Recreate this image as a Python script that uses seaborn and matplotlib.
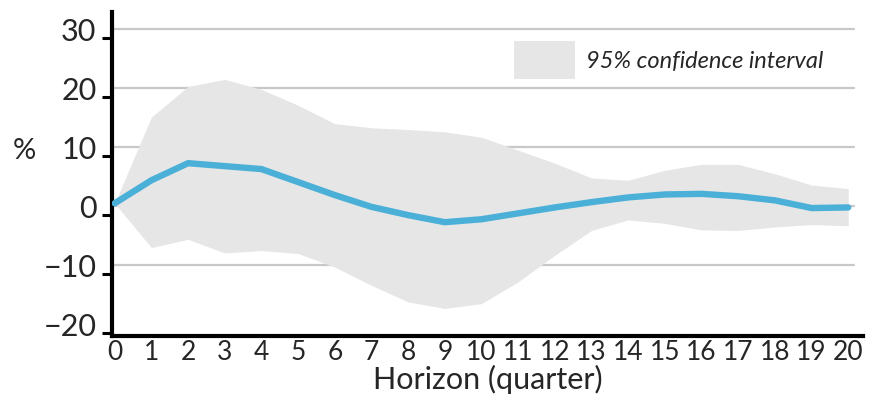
import numpy as np
import pandas as pd
import matplotlib.pyplot as plt
import seaborn as sns
from matplotlib.patches import Patch

# Impulse response, quarters 0..20
horizon = list(range(21))
response = [0.5, 4.4, 7.3, 6.8, 6.3, 4.1, 1.9, -0.1, -1.5, -2.7, -2.2,
            -1.2, -0.2, 0.7, 1.5, 2.0, 2.1, 1.7, 1.0, -0.3, -0.2]
ci_upper = [0.5, 15.1, 20.3, 21.5, 19.8, 17.1, 14.0, 13.3, 13.0, 12.6, 11.7,
            9.5, 7.3, 4.8, 4.4, 6.1, 7.1, 7.1, 5.5, 3.6, 3.0]
ci_lower = [0.5, -7.0, -5.6, -7.9, -7.5, -8.0, -10.3, -13.4, -16.2, -17.3, -16.5,
            -12.8, -8.3, -4.1, -2.3, -2.9, -4.0, -4.1, -3.5, -3.1, -3.3]
yticks = [30, 20, 10, 0, -10, -20]
ytick_labels = ['30', '20', '10', '0', '\u221210', '\u221220']

df = pd.DataFrame({'horizon': horizon, 'response': response,
                   'upper': ci_upper, 'lower': ci_lower})

sns.set_style('white')
plt.rcParams['font.family'] = ['Lato', 'DejaVu Sans']

fig = plt.figure(figsize=(8.8, 4.15), dpi=100)
ax = fig.add_axes([0.127, 0.19, 0.854, 0.781])

band_color = '#e6e6e6'
ax.fill_between(df['horizon'], df['lower'], df['upper'], color=band_color,
                linewidth=0, zorder=1)

# gridlines stop at the last quarter, the axis runs a little further
for y in yticks[:-1]:
    ax.axhline(y, xmin=0, xmax=(20.15 + 0.08) / 20.49, color='#c8c8c8',
               linewidth=1.6, zorder=0.5)

sns.lineplot(data=df, x='horizon', y='response', ax=ax, color='#4bb0d8',
             linewidth=4.6, zorder=3)

ax.set_xlim(-0.08, 20.41)
ax.set_ylim(-22.0, 32.9)
ax.set_xticks(horizon)
ax.set_xticklabels([str(h) for h in horizon], fontsize=19)
ax.set_yticks(yticks)
ax.set_yticklabels(ytick_labels, fontsize=22)
# tick marks sit a bit below the labels, as in the original
ax.set_yticks([t - 1.5 for t in yticks], minor=True)
ax.tick_params(axis='y', which='major', length=0, pad=11)
ax.tick_params(axis='y', which='minor', length=7, width=2.2, color='black',
               left=True)
ax.tick_params(axis='x', length=0, pad=3)

for side in ['top', 'right']:
    ax.spines[side].set_visible(False)
for side in ['left', 'bottom']:
    ax.spines[side].set_linewidth(3)
    ax.spines[side].set_color('black')

ax.set_xlabel('Horizon (quarter)', fontsize=22, labelpad=0)
ax.set_ylabel('%', fontsize=21, rotation=0, va='center')
ax.yaxis.set_label_coords(-0.116, 0.57)

handle = Patch(facecolor=band_color, edgecolor='none')
leg = ax.legend([handle], ['95% confidence interval'], loc='upper right',
                bbox_to_anchor=(0.975, 0.975), frameon=False,
                handlelength=2.6, handleheight=2.1, handletextpad=0.45,
                prop={'size': 17, 'style': 'italic'})

fig.savefig('out.png', dpi=100)
